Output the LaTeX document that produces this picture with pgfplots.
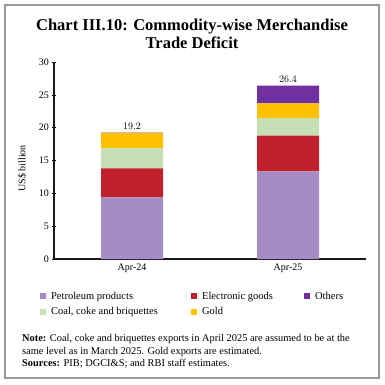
\documentclass[border=0pt]{standalone}
\usepackage{pgfplots}
\pgfplotsset{compat=1.18}
\usepackage{fontspec}
\setmainfont{Liberation Serif}
\definecolor{petro}{HTML}{A68BC4}
\definecolor{elec}{HTML}{C0202A}
\definecolor{coal}{HTML}{C6DFB4}
\definecolor{gold}{HTML}{FFC000}
\definecolor{others}{HTML}{7030A0}
\begin{document}
\begin{tikzpicture}[x=1pt,y=1pt]
\path (0pt,0pt) rectangle (385pt,-385pt);
\draw[black!40, line width=1.5pt] (5pt,-5pt) rectangle (379pt,-378pt);
\node[font=\bfseries\fontsize{16.5}{18}\selectfont, align=center] at (192pt,-34pt) {Chart III.10: Commodity-wise Merchandise\\Trade Deficit};
\begin{axis}[
  at={(54pt,-259pt)}, anchor=south west,
  scale only axis, width=312pt, height=197pt,
  ybar stacked, bar width=62pt,
  xmin=-0.5, xmax=1.5, ymin=0, ymax=30,
  xtick={0,1}, xticklabels={Apr-24,Apr-25},
  major x tick style={draw=none},
  extra x ticks={-0.5,0.5,1.5}, extra x tick labels={},
  extra x tick style={major tick length=3pt, tick style={black, draw=black, line width=0.6pt}},
  ytick={0,5,...,30},
  tick align=outside, major tick length=3pt,
  y tick style={black, line width=0.6pt},
  axis x line=bottom, axis y line=left,
  axis line style={-, line width=1.5pt, black!90},
  tick label style={font=\fontsize{10}{12}\selectfont},
  /pgf/number format/assume math mode=true,
  ylabel={US\$ billion}, ylabel style={font=\fontsize{10}{12}\selectfont, at={(ticklabel cs:0.46)}},
  ylabel shift=6pt,
  legend style={at={(-0.045,-0.16)}, anchor=north west, draw=none, fill=none,
     font=\fontsize{10.5}{12}\selectfont, inner sep=0pt,
     nodes={inner sep=1pt},
     /tikz/every odd column/.append style={column sep=4pt},
     row sep=5pt},
  legend columns=3, legend cell align=left,
  legend image code/.code={\fill[#1] (0pt,-3pt) rectangle (6pt,3pt);},
]
\addplot[fill=petro, draw=none, forget plot] coordinates {(0,9.4) (1,13.35)};
\addplot[fill=elec, draw=none, forget plot] coordinates {(0,4.4) (1,5.45)};
\addplot[fill=coal, draw=none, forget plot] coordinates {(0,3.1) (1,2.7)};
\addplot[fill=gold, draw=none, forget plot] coordinates {(0,2.3) (1,2.2)};
\addplot[fill=others, draw=none, forget plot] coordinates {(0,0.05) (1,2.7)};
\addlegendimage{fill=petro, draw=none}\addlegendentry{\makebox[139pt][l]{Petroleum products}}
\addlegendimage{fill=elec, draw=none}\addlegendentry{\makebox[101pt][l]{Electronic goods}}
\addlegendimage{fill=others, draw=none}\addlegendentry{Others}
\addlegendimage{fill=coal, draw=none}\addlegendentry{\makebox[139pt][l]{Coal, coke and briquettes}}
\addlegendimage{fill=gold, draw=none}\addlegendentry{\makebox[101pt][l]{Gold}}
\end{axis}
\begin{axis}[
  at={(54pt,-259pt)}, anchor=south west,
  scale only axis, width=312pt, height=197pt,
  xmin=-0.5, xmax=1.5, ymin=0, ymax=30, hide axis,
]
\addplot[draw=none, mark=none, point meta=explicit,
  nodes near coords={\pgfmathprintnumber[fixed,precision=1,fixed zerofill]{\pgfplotspointmeta}},
  every node near coord/.append style={font=\fontsize{10}{12}\selectfont, black, anchor=south, yshift=0pt}]
  coordinates {(0,19.25) [19.2] (1,26.4) [26.4]};
\end{axis}
\node[anchor=north west, align=left, font=\fontsize{10.4}{12.6}\selectfont, inner sep=0pt] at (22pt,-334pt) {\textbf{Note:} Coal, coke and briquettes exports in April 2025 are assumed to be at the\\same level as in March 2025. Gold exports are estimated.\\\textbf{Sources:} PIB; DGCI\&S; and RBI staff estimates.};
\end{tikzpicture}
\end{document}
